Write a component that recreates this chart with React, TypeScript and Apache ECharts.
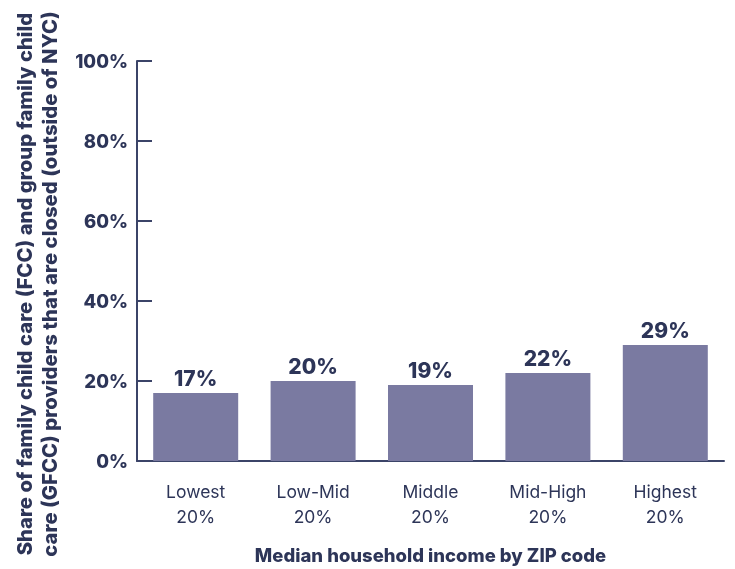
import React, { useEffect, useRef } from "react";
import * as echarts from "echarts";

const categories = ["Lowest\n20%", "Low-Mid\n20%", "Middle\n20%", "Mid-High\n20%", "Highest\n20%"];
const values = [17, 20, 19, 22, 29];
const yTicks = [0, 20, 40, 60, 80, 100];
const yTitle = [
  "Share of family child care (FCC) and group family child",
  "care (GFCC) providers that are closed (outside of NYC)",
];
const xTitle = "Median household income by ZIP code";

const TEXT = "#2d3558";
const AXIS = "#3b4468";
const BAR = "#7a7aa1";
const FONT = "Inter, 'Noto Sans', sans-serif";

export default function App() {
  const ref = useRef<HTMLDivElement>(null);
  useEffect(() => {
    if (!ref.current) return;
    const chart = echarts.init(ref.current, null, { renderer: "svg" });
    chart.setOption({
      animation: false,
      grid: { left: 137, right: 11, top: 61, bottom: 106 },
      xAxis: {
        type: "category",
        data: categories,
        boundaryGap: true,
        axisLine: { lineStyle: { color: AXIS, width: 2 } },
        axisTick: { inside: true, length: 9, lineStyle: { color: AXIS, width: 2 } },
        axisLabel: {
          color: TEXT,
          fontFamily: FONT,
          fontSize: 17.5,
          lineHeight: 25,
          margin: 18,
        },
        name: xTitle,
        nameLocation: "middle",
        nameGap: 84,
        nameTextStyle: { color: TEXT, fontFamily: FONT, fontSize: 18.5, fontWeight: 800 },
      },
      yAxis: {
        type: "value",
        min: 0,
        max: 100,
        interval: 20,
        axisLine: { show: true, lineStyle: { color: AXIS, width: 2 } },
        axisTick: { show: true, inside: true, length: 15, lineStyle: { color: AXIS, width: 2 } },
        splitLine: { show: false },
        axisLabel: {
          color: TEXT,
          fontFamily: FONT,
          fontSize: 18.5,
          fontWeight: 800,
          margin: 9,
          formatter: (v: number) => (yTicks.includes(v) ? v + "%" : ""),
        },
      },
      series: [
        {
          type: "bar",
          data: values,
          barWidth: "72.4%",
          itemStyle: { color: BAR },
          label: {
            show: true,
            position: "top",
            distance: 4,
            color: TEXT,
            fontFamily: FONT,
            fontSize: 21,
            fontWeight: 800,
            formatter: "{c}%",
          },
        },
      ],
      graphic: [
        {
          type: "text",
          x: 24,
          y: 284,
          rotation: Math.PI / 2,
          style: {
            text: yTitle[0],
            fill: TEXT,
            font: `800 20.3px ${FONT}`,
            textAlign: "center",
            textVerticalAlign: "middle",
          },
        },
        {
          type: "text",
          x: 49,
          y: 284,
          rotation: Math.PI / 2,
          style: {
            text: yTitle[1],
            fill: TEXT,
            font: `800 20.3px ${FONT}`,
            textAlign: "center",
            textVerticalAlign: "middle",
          },
        },
      ],
    });
    return () => chart.dispose();
  }, []);
  return <div ref={ref} style={{ width: 735, height: 569, position: "fixed", left: 0, top: 0 }} />;
}
